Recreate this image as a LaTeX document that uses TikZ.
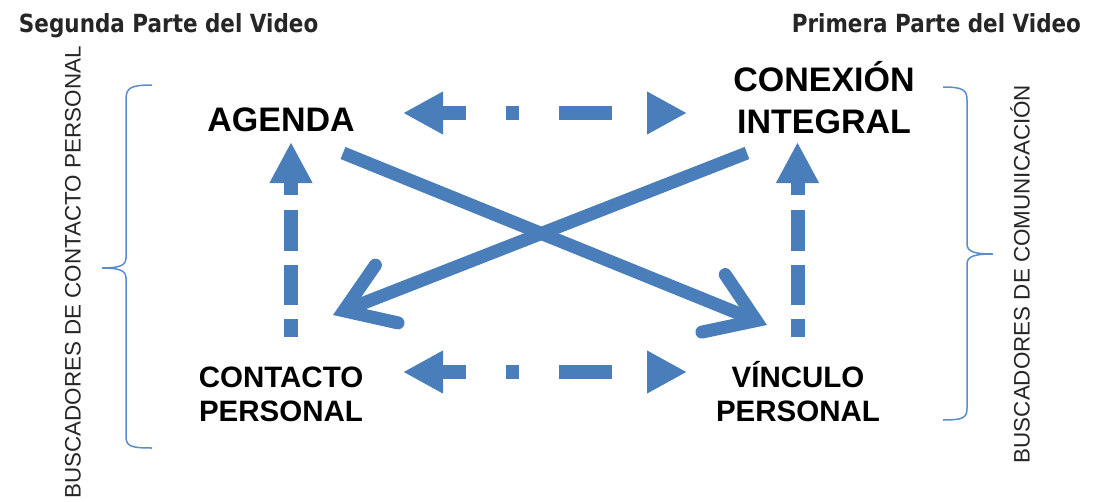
\documentclass[tikz,border=0pt]{standalone}
\usepackage{fontspec}
\setmainfont{Liberation Sans}
\newfontfamily\titlefont[FakeStretch=0.86]{DejaVu Sans}
\usetikzlibrary{arrows.meta, calc}

\definecolor{flecha}{RGB}{74,126,187}
\definecolor{llave}{RGB}{90,140,205}
\definecolor{gristexto}{RGB}{38,38,38}

\begin{document}
\begin{tikzpicture}[
	x = 1pt, y = -1pt, % one unit per pixel, y going down
	line width = 14pt % thick arrows
	]
	
	\tikzstyle{titulo}=[inner sep = 0pt, text = gristexto, font = \titlefont\bfseries\fontsize{25}{30}\selectfont]
	\tikzstyle{etiqueta}=[inner sep = 0pt, align = center, text = black]
	\tikzstyle{grande}=[font = \bfseries\fontsize{34}{42}\selectfont]
	\tikzstyle{chica}=[font = \bfseries\fontsize{29.5}{34}\selectfont]
	\tikzstyle{lateral}=[inner sep = 0pt, rotate = 90, text = gristexto, font = \fontsize{22.4}{26}\selectfont]
	\tikzstyle{punteada h}=[
	draw = flecha,
	dash pattern = on 25pt off 40pt on 13pt off 40pt on 53pt off 120pt,
	arrows = {Triangle[length=40pt, width=40pt]-Triangle[length=40pt, width=40pt]}
	]
	\tikzstyle{punteada v}=[
	draw = flecha,
	dash pattern = on 18pt off 14pt on 40pt off 14pt on 41pt off 15pt on 30pt,
	arrows = {-Triangle[length=41pt, width=40pt]}
	]
	\tikzstyle{cruzada}=[
	draw = flecha,
	line width = 13pt,
	arrows = {-Straight Barb[length=46pt, width=62pt, line cap=round, line join=miter]}
	]
	
	\path[use as bounding box, fill = white] (0,0) rectangle (1093,501);
	
	% titles
	\node[titulo, anchor = base west] (segunda) at (12,32) {Segunda Parte del Video};
	\node[titulo, anchor = base east] (primera) at (1088,32) {Primera Parte del Video};
	
	% the four boxes
	\node[etiqueta, grande] (agenda) at (281,119.5) {AGENDA};
	\node[etiqueta, grande] (conexion) at (824,97.5) {CONEXIÓN\\INTEGRAL};
	\node[etiqueta, chica] (contacto) at (281,394.5) {CONTACTO\\PERSONAL};
	\node[etiqueta, chica] (vinculo) at (798,391.5) {VÍNCULO\\PERSONAL};
	
	% side labels
	\node[lateral] (izquierda) at (73,272.5) {BUSCADORES DE CONTACTO PERSONAL};
	\node[lateral] (derecha) at (1020,274) {BUSCADORES DE COMUNICACIÓN};
	
	% arrows
	\path[punteada h] ($(agenda)+(122,-6.5)$) -- ($(conexion)+(-137,15.5)$);
	\path[punteada h] ($(contacto)+(122,-22.5)$) -- ($(vinculo)+(-111,-19.5)$);
	\path[punteada v] ($(contacto)+(10,-57.5)$) -- ($(agenda)+(10,22.5)$);
	\path[punteada v] ($(vinculo)+(-0.5,-54.5)$) -- ($(conexion)+(-26.5,44.5)$);
	\path[cruzada] ($(agenda)+(62,33.5)$) -- ($(vinculo)+(-31,-66.5)$);
	\path[cruzada] ($(conexion)+(-77,55.5)$) -- ($(contacto)+(52,-79.5)$);
	
	% braces
	\draw[llave, line width = 1.5pt] (152,85) .. controls (130,85) and (126,88) .. (126,100) -- (126,258)
	.. controls (126,266) and (118,268) .. (102,268) .. controls (118,268) and (126,270) .. (126,278)
	-- (126,436) .. controls (126,446) and (130,448) .. (152,448);
	\draw[llave, line width = 1.5pt] (943,87) .. controls (963,87) and (967,90) .. (967,100) -- (967,244)
	.. controls (967,252) and (975,254) .. (993,254) .. controls (975,254) and (967,256) .. (967,264)
	-- (967,408) .. controls (967,418) and (963,420) .. (943,420);
	
\end{tikzpicture}
\end{document}
